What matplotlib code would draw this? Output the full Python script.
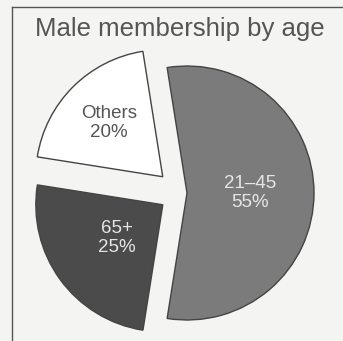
import matplotlib.pyplot as plt
import numpy as np

# slice data, clockwise from the top
groups = ["21–45", "65+", "Others"]
shares = [55, 25, 20]
colors = ["#7b7b7b", "#4b4b4b", "#ffffff"]
text_colors = ["#e6e6e6", "#e6e6e6", "#555555"]
explode = [8, 20, 23]
label_dist = [0.5, 0.45, 0.6]

plt.rcParams['font.family'] = ['Liberation Sans', 'DejaVu Sans']

fig = plt.figure(figsize=(3.43, 3.41), dpi=100, facecolor="#f4f4f2")
ax = fig.add_axes([0, 0, 1, 1])
ax.set_facecolor("#f4f4f2")

radius = 127
wedges, _ = ax.pie(shares, colors=colors, explode=explode, startangle=99,
                   counterclock=False, radius=radius, center=(179, 148),
                   wedgeprops=dict(edgecolor="#444444", linewidth=1.0))

for w, g, s, tc, d in zip(wedges, groups, shares, text_colors, label_dist):
    mid = np.deg2rad((w.theta1 + w.theta2) / 2)
    x = w.center[0] + d * w.r * np.cos(mid)
    y = w.center[1] + d * w.r * np.sin(mid)
    ax.text(x, y, f"{g}\n{s}%", ha="center", va="center", color=tc,
            fontsize=13.5, linespacing=1.15)

ax.set_xlim(0, 343)
ax.set_ylim(0, 341)
ax.set_aspect("equal")
ax.axis("off")

# frame: top and left lines only
ax.plot([12, 343], [334, 334], color="#555555", lw=1.0, clip_on=False)
ax.plot([12, 12], [0, 334], color="#555555", lw=1.0, clip_on=False)

fig.text(0.525, 0.915, "Male membership by age", ha="center", va="center",
         fontsize=18.5, color="#555555")

fig.savefig("out.png", dpi=100, facecolor=fig.get_facecolor())
